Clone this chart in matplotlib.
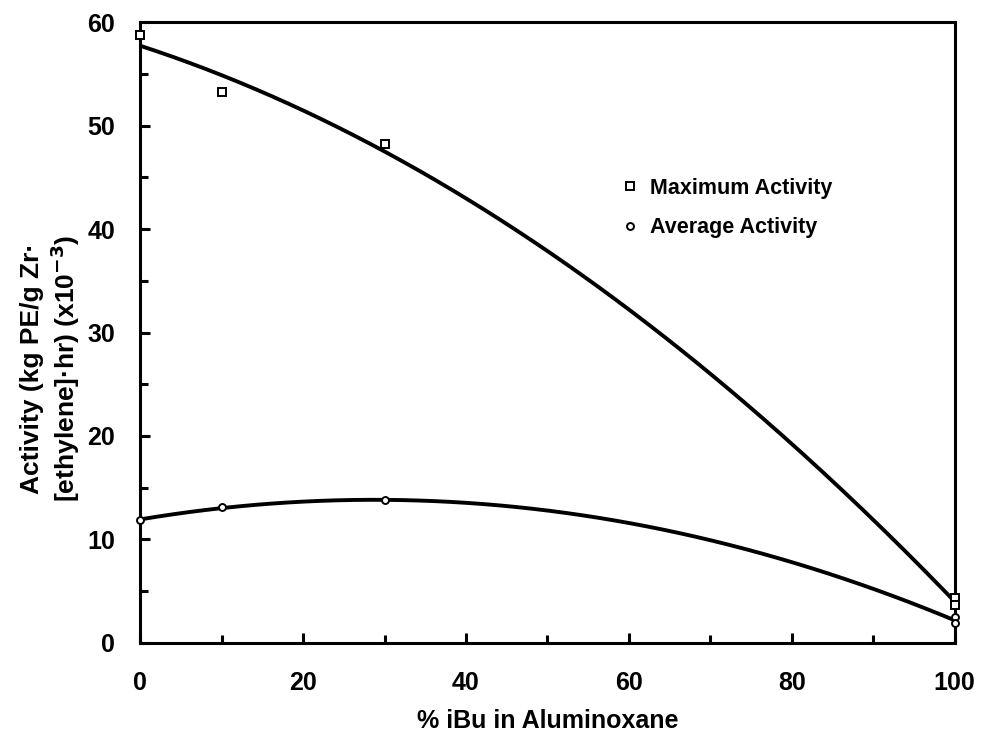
import numpy as np
import matplotlib
matplotlib.use("Agg")
import matplotlib.pyplot as plt
from matplotlib.ticker import MultipleLocator

plt.rcParams['font.family'] = ['Liberation Sans', 'DejaVu Sans']
plt.rcParams['font.weight'] = 'bold'
plt.rcParams['axes.labelweight'] = 'bold'
plt.rcParams['mathtext.default'] = 'bf'

# % iBu in aluminoxane vs activity (kg PE / g Zr [ethylene] hr) x10^-3
max_x = [0, 10, 30, 100, 100]
max_y = [58.7, 53.2, 48.2, 4.3, 3.7]
avg_x = [0, 10, 30, 100, 100]
avg_y = [11.9, 13.1, 13.8, 2.5, 1.9]

fig = plt.figure(figsize=(9.81, 7.34), dpi=100)
ax = fig.add_axes([0.143, 0.124, 0.830, 0.846])

# quadratic trend lines through each series
xs = np.linspace(0, 100, 200)
for x, y in [(max_x, max_y), (avg_x, avg_y)]:
    p = np.polyfit(x, y, 2)
    ax.plot(xs, np.polyval(p, xs), color='black', lw=2.8, zorder=2)

ax.plot(max_x, max_y, 's', ms=5.5, mfc='white', mec='black', mew=1.4,
        label='Maximum Activity', zorder=3, clip_on=False)
ax.plot(avg_x, avg_y, 'o', ms=5, mfc='white', mec='black', mew=1.4,
        label='Average Activity', zorder=3, clip_on=False)

ax.set_xlim(0, 100)
ax.set_ylim(0, 60)
ax.xaxis.set_major_locator(MultipleLocator(20))
ax.xaxis.set_minor_locator(MultipleLocator(10))
ax.yaxis.set_major_locator(MultipleLocator(10))
ax.yaxis.set_minor_locator(MultipleLocator(5))
ax.tick_params(which='both', direction='in', width=2.2, labelsize=18)
ax.tick_params(which='major', length=7)
ax.tick_params(which='minor', length=6)
ax.tick_params(axis='x', pad=20)
ax.tick_params(axis='y', pad=18)
for s in ax.spines.values():
    s.set_linewidth(2.2)

ax.set_xlabel('% iBu in Aluminoxane', fontsize=18, labelpad=10)
ax.set_ylabel('Activity (kg PE/g Zr\u00b7\n[ethylene]\u00b7hr) (x10$^{-3}$)',
              fontsize=19, linespacing=1.2)
ax.yaxis.set_label_coords(-0.071, 0.443)

ax.legend(loc='upper left', bbox_to_anchor=(0.57, 0.78), frameon=False,
          fontsize=15.5, handlelength=0.6, handletextpad=0.6, labelspacing=0.85,
          numpoints=1)

fig.savefig('out.png', dpi=100)
